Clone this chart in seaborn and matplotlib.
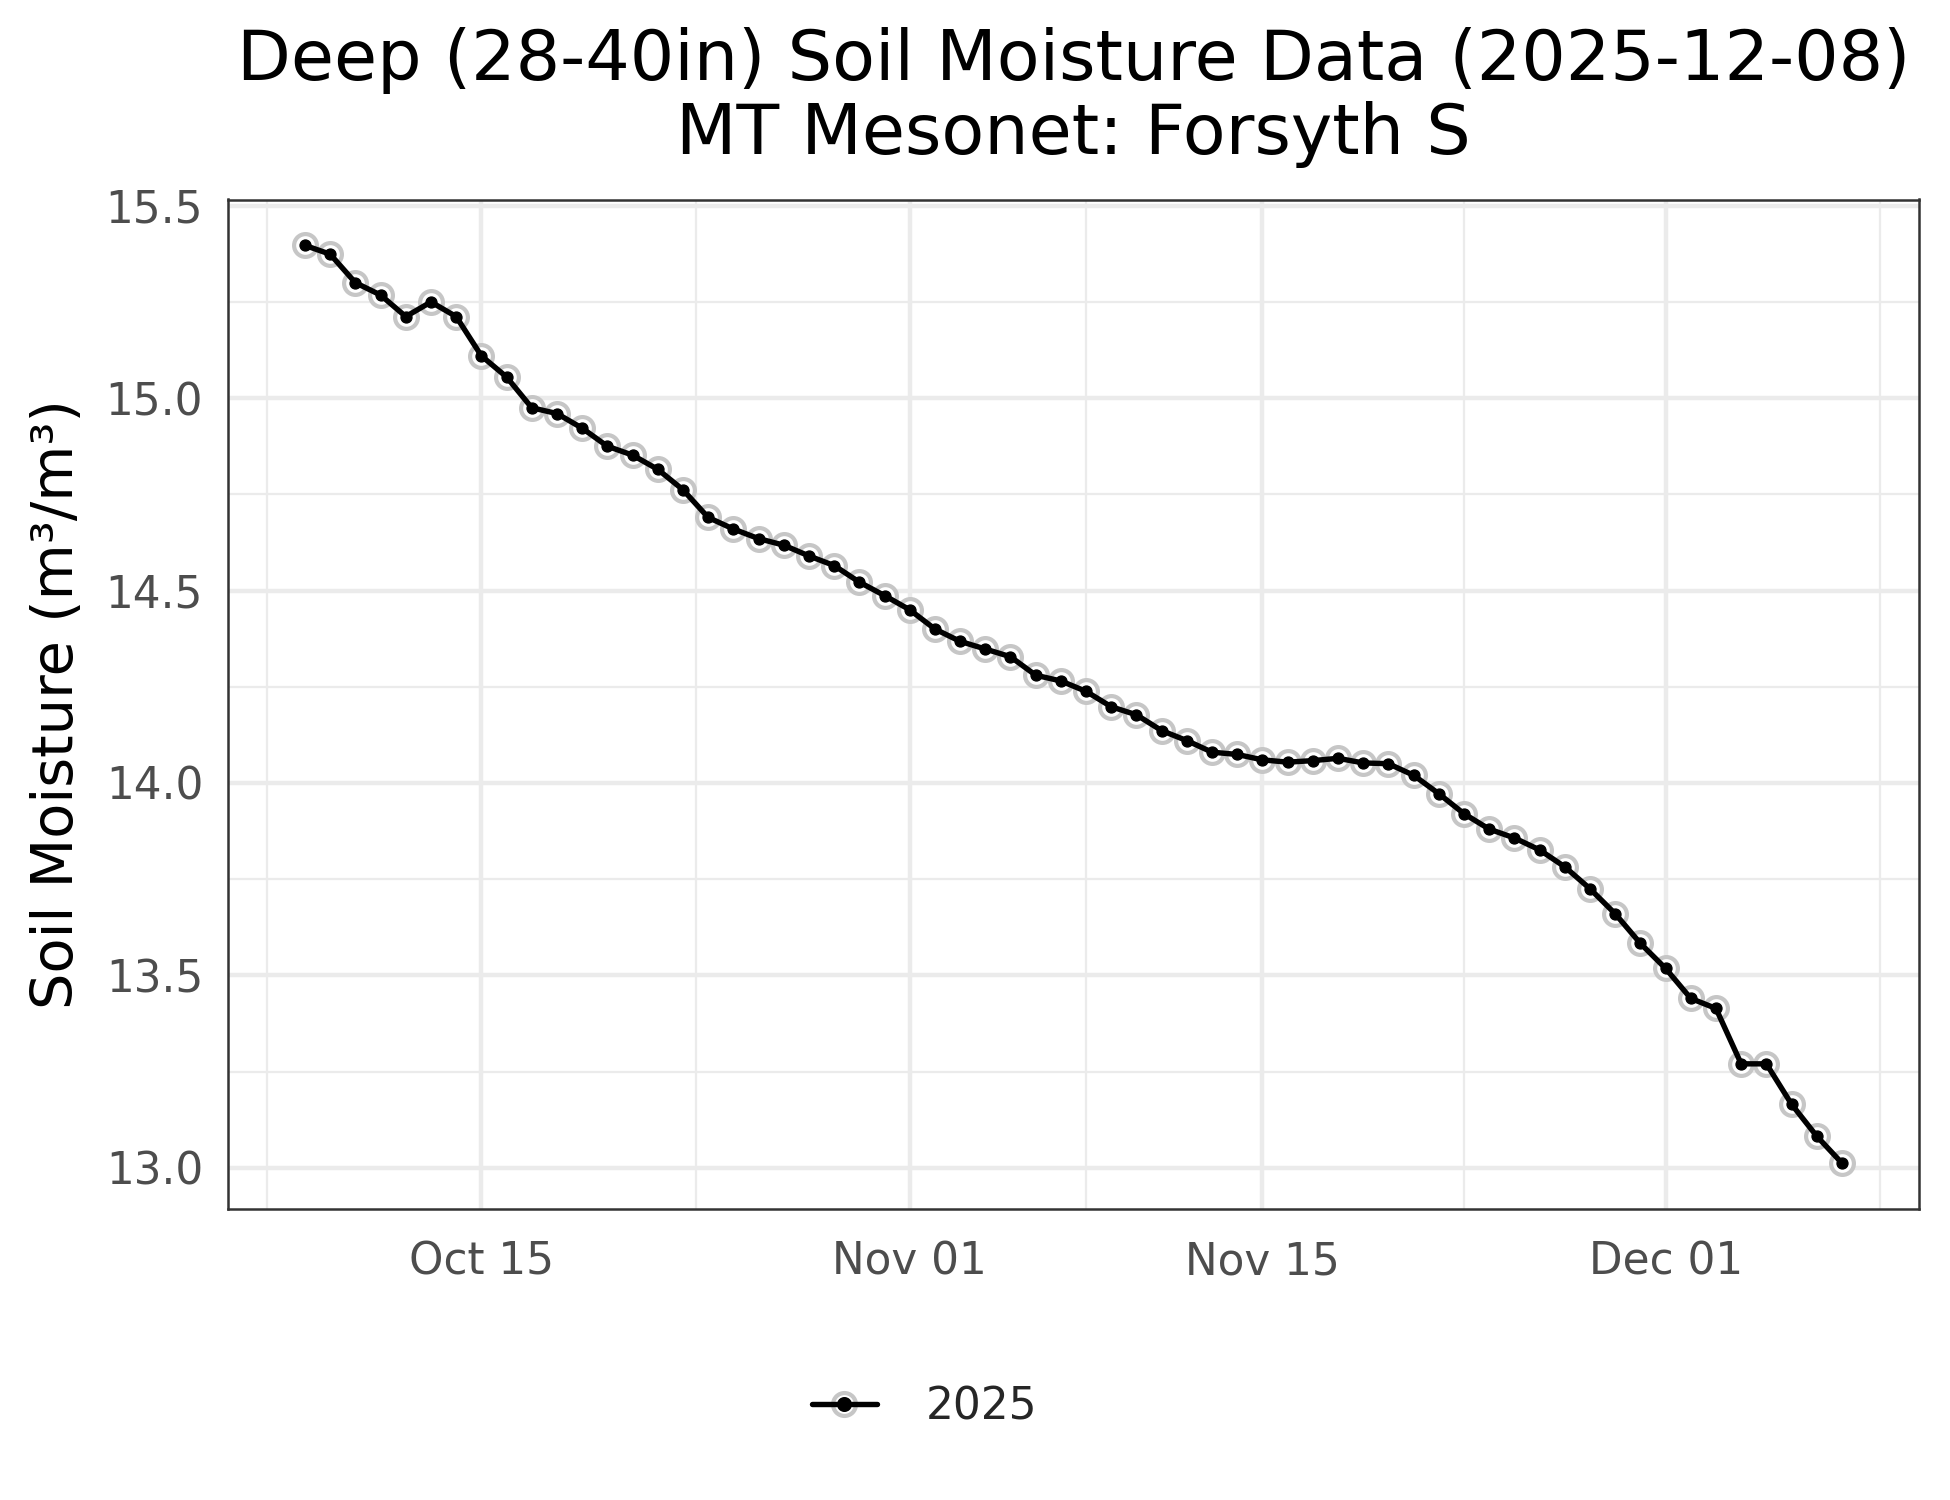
import numpy as np
import pandas as pd
import matplotlib
matplotlib.use("Agg")
import matplotlib.pyplot as plt
import matplotlib.dates as mdates
from matplotlib.lines import Line2D
from matplotlib.legend_handler import HandlerTuple
import seaborn as sns

# ---------------- data ----------------
dates = pd.date_range("2025-10-08", "2025-12-08", freq="D")
moisture = [
    15.397, 15.374, 15.300, 15.268, 15.212, 15.250, 15.212, 15.110, 15.055, 14.975,
    14.960, 14.922, 14.875, 14.852, 14.815, 14.762, 14.690, 14.660, 14.635, 14.618,
    14.590, 14.565, 14.522, 14.487, 14.450, 14.400, 14.368, 14.348, 14.328, 14.280,
    14.265, 14.238, 14.198, 14.177, 14.136, 14.110, 14.080, 14.074, 14.060, 14.054,
    14.058, 14.064, 14.052, 14.050, 14.020, 13.972, 13.920, 13.880, 13.857, 13.826,
    13.782, 13.725, 13.660, 13.583, 13.518, 13.440, 13.414, 13.270, 13.270, 13.165,
    13.082, 13.012,
]
series_label = "2025"
title_text = "Deep (28-40in) Soil Moisture Data (2025-12-08)\nMT Mesonet: Forsyth S"
y_label = "Soil Moisture (m³/m³)"
y_ticks = [13.0, 13.5, 14.0, 14.5, 15.0, 15.5]
y_minor = [13.25, 13.75, 14.25, 14.75, 15.25]
x_ticks = ["2025-10-15", "2025-11-01", "2025-11-15", "2025-12-01"]

df = pd.DataFrame({"date": dates, "value": moisture})

# ---------------- style ----------------
sns.set_theme(style="white")
plt.rcParams["font.family"] = ["DejaVu Sans"]

fig = plt.figure(figsize=(6.5, 5), dpi=300)
ax = fig.add_axes([0.117, 0.194, 0.867, 0.673])

grid_c = "#EBEBEB"
ring_c = "#C6C6C6"
# ring behind
sns.scatterplot(data=df, x="date", y="value", ax=ax, s=30, marker="o",
                facecolor="white", edgecolor=ring_c, linewidth=1.0, zorder=3,
                legend=False)
sns.lineplot(data=df, x="date", y="value", ax=ax, color="black", linewidth=1.3,
             zorder=4, legend=False)
sns.scatterplot(data=df, x="date", y="value", ax=ax, s=7, color="black",
                edgecolor="black", linewidth=0.3, zorder=5, legend=False)

# axis limits (5% expansion like ggplot)
xnum = mdates.date2num(df["date"])
xr = xnum.max() - xnum.min()
ax.set_xlim(xnum.min() - 0.05 * xr, xnum.max() + 0.05 * xr)
vmin, vmax = min(moisture), max(moisture)
yr = vmax - vmin
ax.set_ylim(vmin - 0.05 * yr, vmax + 0.05 * yr)

major_x = mdates.date2num(pd.to_datetime(x_ticks))
ax.set_xticks(major_x)
ax.set_xticklabels([pd.Timestamp(d).strftime("%b %d") for d in x_ticks])
# minor x gridlines at midpoints between major breaks
step0 = major_x[1] - major_x[0]
minor_x = [major_x[0] - step0 / 2] + [(a + b) / 2 for a, b in zip(major_x[:-1], major_x[1:])] \
          + [major_x[-1] + step0 / 2]
ax.set_xticks(minor_x, minor=True)
ax.set_yticks(y_ticks)
ax.set_yticklabels([f"{v:.1f}" for v in y_ticks])
ax.set_yticks(y_minor, minor=True)

ax.grid(which="major", color=grid_c, lw=1.07, zorder=0)
ax.grid(which="minor", color=grid_c, lw=0.55, zorder=0)
ax.set_axisbelow(True)

ax.tick_params(axis="both", which="major", length=3, width=0.6, color="#333333",
               labelsize=10.5, labelcolor="#4D4D4D")
ax.tick_params(axis="x", which="major", pad=4.5)
ax.tick_params(axis="y", which="major", pad=3)
ax.tick_params(axis="both", which="minor", length=0)
for s in ax.spines.values():
    s.set_color("#333333")
    s.set_linewidth(0.6)
    s.set_visible(True)

ax.set_xlabel("")
ax.set_ylabel(y_label, fontsize=13.8, color="black", labelpad=5)

fig.text(0.5 * (0.117 + 0.984), 0.935, title_text, ha="center", va="center",
         fontsize=16.8, color="black", linespacing=1.12)

# legend
h_ring = Line2D([], [], ls="none", marker="o", markersize=5.5, markerfacecolor="white",
                markeredgecolor=ring_c, markeredgewidth=1.0)
h_line = Line2D([], [], color="black", lw=1.3, marker="o", markersize=2.6,
                markerfacecolor="black", markeredgecolor="black")
leg = fig.legend([(h_ring, h_line)], [series_label],
                 handler_map={tuple: HandlerTuple(ndivide=1, pad=0)},
                 loc="center", bbox_to_anchor=(0.474, 0.062), frameon=False,
                 fontsize=10.5, handlelength=1.5, handletextpad=1.1)

fig.savefig("out.png", dpi=300, facecolor="white")
